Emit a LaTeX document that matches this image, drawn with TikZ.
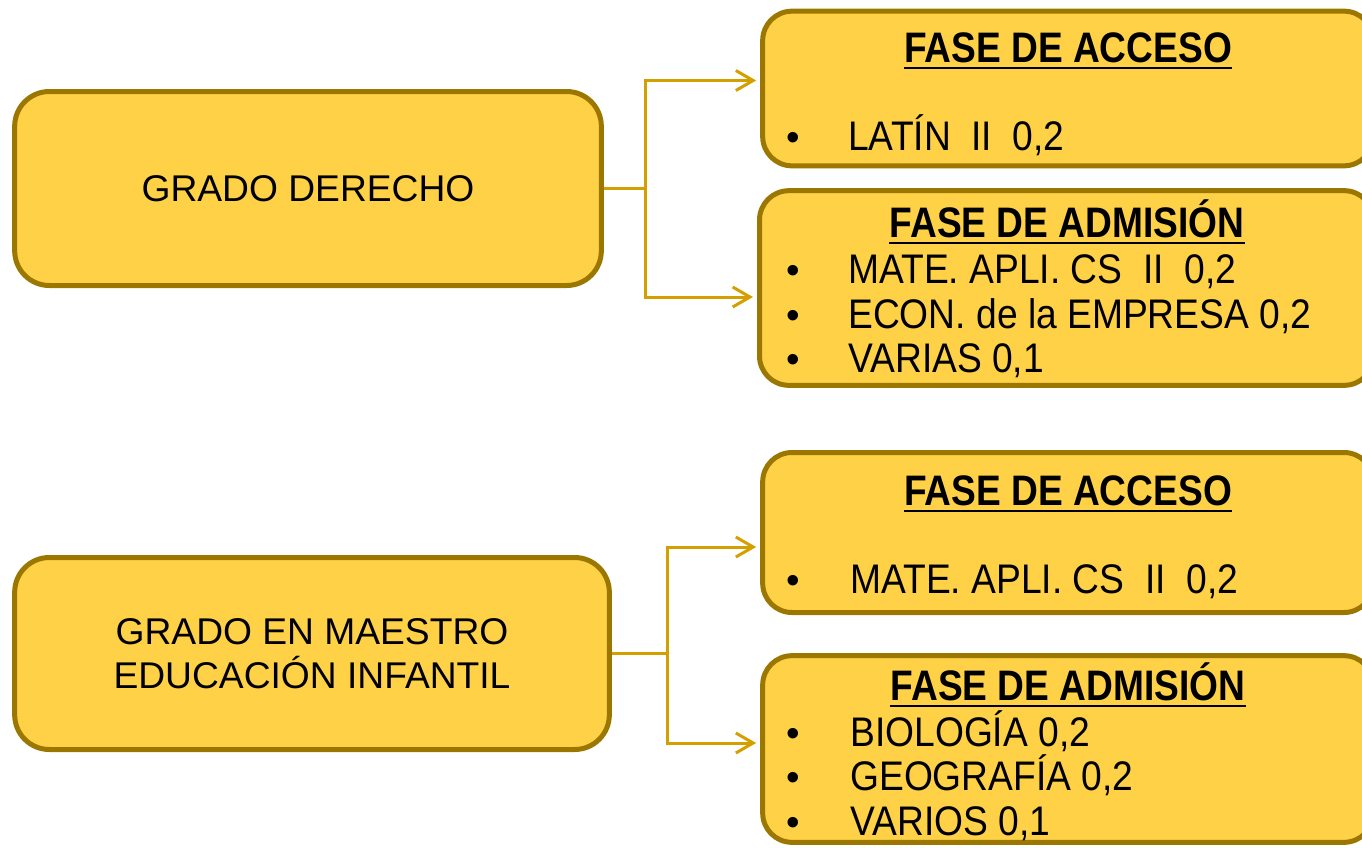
\documentclass[tikz,border=0pt]{standalone}
\usepackage{fontspec}
\setmainfont{Liberation Sans}
\newfontfamily\estrecha[FakeStretch=0.9]{Liberation Sans}
\newfontfamily\estrechab[FakeStretch=0.87]{Liberation Sans}
\usetikzlibrary{arrows.meta,calc}
\definecolor{relleno}{HTML}{FFD147}
\definecolor{borde}{HTML}{9C7700}
\definecolor{rama}{HTML}{D4A000}
\tikzset{
  grado/.style={draw=borde, fill=relleno, line width=3.75pt, rounded corners=26pt,
    align=center, inner sep=0pt, font=\fontsize{27.9}{33}\selectfont},
  fase/.style={draw=borde, fill=relleno, line width=3.75pt, rounded corners=22pt, inner sep=0pt},
  titulo/.style={anchor=base, inner sep=0pt, font=\estrechab\bfseries\fontsize{32}{38}\selectfont},
  subrayado/.style={line width=2.2pt},
  elem/.style={anchor=base west, inner sep=0pt, font=\estrecha\fontsize{31}{37}\selectfont},
  bala/.style={anchor=base, inner sep=0pt, font=\fontsize{29}{35}\selectfont},
  conector/.style={draw=rama, line width=2.25pt},
  flecha/.style={conector, shorten >=3pt, -{Straight Barb[length=13pt,width=15pt]}},
}
\begin{document}
\begin{tikzpicture}[x=0.75pt, y=-0.75pt]
  \useasboundingbox (0,0) rectangle (1362,847);
  \clip (0,0) rectangle (1362,847);

  % grados
  \node[grado, minimum width=440pt, minimum height=145.5pt] (der) at (308,188.5) {GRADO DERECHO};
  \node[grado, minimum width=446pt, minimum height=144pt] (mae) at (312,653.5)
    {GRADO EN MAESTRO\\EDUCACIÓN INFANTIL};

  % fases
  \node[fase, minimum width=458pt, minimum height=116pt] (acc1) at (1068,88.5) {};
  \node[fase, minimum width=460.5pt, minimum height=146pt] (adm1) at (1066.5,288) {};
  \node[fase, minimum width=458pt, minimum height=120pt] (acc2) at (1068,532.5) {};
  \node[fase, minimum width=458pt, minimum height=140pt] (adm2) at (1068,749) {};

  \node[titulo] (tacc1) at (1068,62) {FASE DE ACCESO};
  \node[titulo] (tadm1) at (1067,237) {FASE DE ADMISIÓN};
  \node[titulo] (tacc2) at (1068,505) {FASE DE ACCESO};
  \node[titulo] (tadm2) at (1068,700) {FASE DE ADMISIÓN};
  \foreach \t in {tacc1,tadm1,tacc2,tadm2}
    \draw[subrayado] ([yshift=-4.5pt]\t.base west) -- ([yshift=-4.5pt]\t.base east);

  \foreach \y/\t [count=\i] in {150/{LATÍN\ \ II\ \ 0,2},
      283/{MATE. APLI. CS\ \ II\ \ 0,2}, 328/{ECON. de la EMPRESA 0,2}, 372/{VARIAS 0,1}} {
    \node[bala] (b1-\i) at (793,\y) {\textbullet};
    \node[elem] (e1-\i) at (848,\y) {\t};
  }
  \foreach \y/\t [count=\i] in {593/{MATE. APLI. CS\ \ II\ \ 0,2},
      746/{BIOLOGÍA 0,2}, 790/{GEOGRAFÍA 0,2}, 835/{VARIOS 0,1}} {
    \node[bala] (b2-\i) at (793,\y) {\textbullet};
    \node[elem] (e2-\i) at (850,\y) {\t};
  }

  % conectores
  \coordinate (j1) at (645,188.5);
  \draw[conector] (der.east) -- (j1);
  \draw[flecha] (j1) |- ($(acc1.west)+(0,-8)$);
  \draw[flecha] (j1) |- ($(adm1.west)+(0,9)$);

  \coordinate (j2) at (667,653.5);
  \draw[conector] (mae.east) -- (j2);
  \draw[flecha] (j2) |- ($(acc2.west)+(0,14.5)$);
  \draw[flecha] (j2) |- ($(adm2.west)+(0,-6)$);
\end{tikzpicture}
\end{document}
